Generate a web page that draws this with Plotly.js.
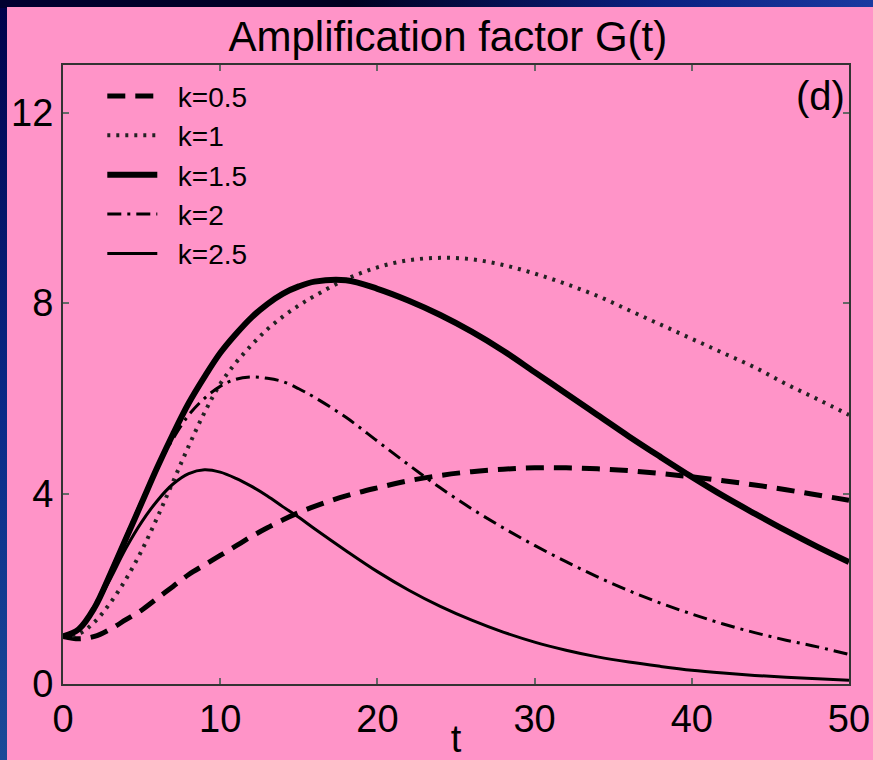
<!DOCTYPE html>
<html>
<head>
<meta charset="utf-8">
<script src="https://cdn.plot.ly/plotly-3.0.1.min.js"></script>
<style>
  html, body { margin:0; padding:0; width:873px; height:760px; overflow:hidden; }
  body { background: linear-gradient(to bottom, #00004a 0%, #0a2a88 55%, #1a4a98 100%); position:relative; }
  #topband { position:absolute; left:0; top:0; width:873px; height:8px;
    background: linear-gradient(to right, #000030 0%, #000020 40%, #0a2080 75%, #1a3aa0 100%); }
  #pink { position:absolute; left:7px; top:7px; width:866px; height:753px; background:#FF94C8; }
  #chart { position:absolute; left:0; top:0; width:873px; height:760px; }
</style>
</head>
<body>
<div id="topband"></div>
<div id="pink"></div>
<div id="chart"></div>
<script>
// time samples
const t = [0,1,2,3,4,5,6,7,8,9,10,11,12,13,14,15,16,18,20,22,24,26,28,30,32,34,36,38,40,42,44,46,48,50];

// G(t) for each k
const g_k05 = [1.0,0.95,1.0,1.15,1.35,1.55,1.8,2.05,2.3,2.5,2.7,2.9,3.1,3.28,3.45,3.6,3.73,3.95,4.12,4.27,4.38,4.46,4.51,4.54,4.54,4.52,4.48,4.42,4.35,4.27,4.18,4.08,3.97,3.86];
const g_k1  = [1.0,1.05,1.3,1.7,2.2,2.8,3.5,4.25,5.0,5.7,6.3,6.75,7.12,7.45,7.72,7.95,8.15,8.5,8.75,8.9,8.95,8.92,8.8,8.62,8.4,8.15,7.85,7.55,7.25,6.95,6.65,6.3,5.98,5.65];
const g_k15 = [1.0,1.15,1.6,2.3,3.05,3.8,4.55,5.25,5.9,6.45,6.95,7.35,7.7,7.98,8.2,8.35,8.45,8.48,8.3,8.05,7.75,7.4,7.0,6.55,6.1,5.65,5.2,4.77,4.35,3.95,3.58,3.22,2.88,2.56];
const g_k2  = [1.0,1.15,1.65,2.35,3.1,3.85,4.55,5.15,5.65,6.0,6.25,6.4,6.45,6.42,6.35,6.2,6.02,5.6,5.1,4.6,4.12,3.68,3.28,2.91,2.57,2.25,1.96,1.7,1.47,1.26,1.08,0.92,0.78,0.62];
const g_k25 = [1.0,1.15,1.6,2.2,2.85,3.4,3.85,4.2,4.42,4.5,4.45,4.32,4.15,3.95,3.72,3.5,3.26,2.8,2.36,1.97,1.63,1.34,1.09,0.88,0.71,0.57,0.46,0.37,0.29,0.23,0.18,0.14,0.11,0.08];

const names = ['k=0.5','k=1','k=1.5','k=2','k=2.5'];
const yTicks = [0,4,8,12];
const xTicks = [0,10,20,30,40,50];

const FONT = 'Liberation Sans, Arial, Helvetica, sans-serif';
const PAD = '\u00A0\u00A0';

function tr(y, name, line) {
  return { x: t, y: y, name: PAD + name, type: 'scatter', mode: 'lines',
           line: Object.assign({shape:'spline', smoothing:1, color:'#000'}, line) };
}

const data = [
  tr(g_k05, names[0], {width:5, dash:'18px,10px'}),
  tr(g_k1,  names[1], {width:4, dash:'3px,6px', color:'#222'}),
  tr(g_k15, names[2], {width:6}),
  tr(g_k2,  names[3], {width:3, dash:'14px,6px,3px,6px'}),
  tr(g_k25, names[4], {width:3})
];

const axisCommon = {
  showline: true, linecolor: '#333', linewidth: 2, mirror: 'allticks',
  ticks: 'inside', ticklen: 6, tickcolor: '#666', tickwidth: 2,
  showgrid: false, zeroline: false,
  tickfont: {family: FONT, size: 38, color: '#000'}
};

const layout = {
  width: 873, height: 760,
  paper_bgcolor: 'rgba(0,0,0,0)', plot_bgcolor: 'rgba(0,0,0,0)',
  margin: {l:63, r:24, t:65, b:76},
  title: {text: 'Amplification factor G(t)', font: {family: FONT, size: 42, color:'#000'},
          x: 0.513, xanchor:'center', xref:'container', y: 0.952, yref:'container', yanchor:'middle'},
  xaxis: Object.assign({}, axisCommon, {range:[0,50], tickvals: xTicks, ticktext: xTicks.map(String),
          title: {text:'t', font:{family: FONT, size: 38, color:'#000'}, standoff: 0}}),
  yaxis: Object.assign({}, axisCommon, {range:[0,13], tickvals: yTicks, ticktext: yTicks.map(String)}),
  showlegend: true,
  legend: {x: 0.05, y: 0.99, xanchor:'left', yanchor:'top', bgcolor:'rgba(0,0,0,0)',
           font: {family: FONT, size: 28, color:'#000'}, tracegroupgap: 0, itemwidth: 50},
  annotations: [
    {text: '(d)', xref:'paper', yref:'y', x: 0.997, y: 12.35, xanchor:'right', yanchor:'middle',
     showarrow:false, font:{family: FONT, size: 40, color:'#000'}}
  ]
};

Plotly.newPlot('chart', data, layout, {displayModeBar:false, staticPlot:true});
</script>
</body>
</html>
